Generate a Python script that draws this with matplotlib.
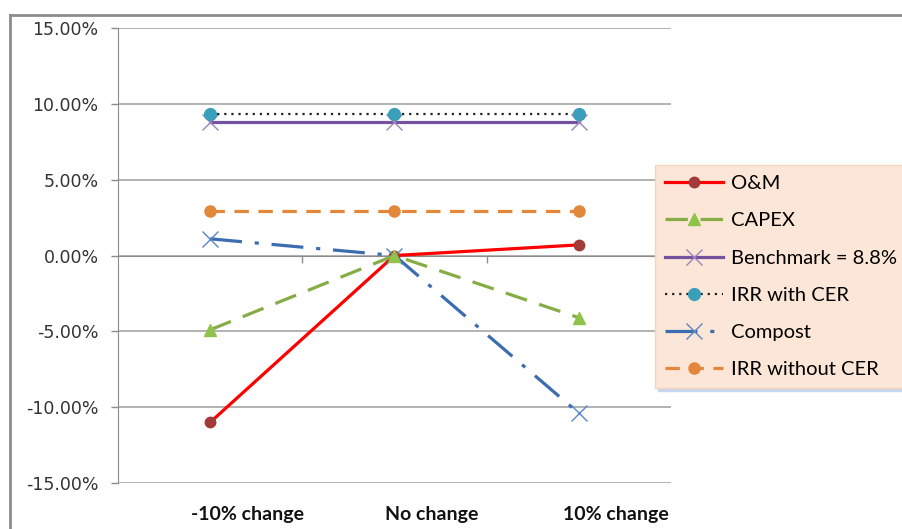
import matplotlib
matplotlib.use('Agg')
import matplotlib.pyplot as plt
import matplotlib.transforms as mtransforms
from matplotlib.lines import Line2D

# ── Data (IRR sensitivity, %) ─────────────────────────────────────────────────
categories = ['-10% change', 'No change', '10% change']
om = [-11.0, 0.0, 0.7]
capex = [-4.9, 0.0, -4.1]
benchmark = [8.8, 8.8, 8.8]
irr_with_cer = [9.35, 9.35, 9.35]
compost = [1.1, 0.0, -10.4]
irr_without_cer = [2.95, 2.95, 2.95]
y_ticks = [-15, -10, -5, 0, 5, 10, 15]

x = list(range(len(categories)))

fig = plt.figure(figsize=(9.02, 5.29), dpi=100)
ax = fig.add_axes([0.1308, 0.087, 0.6131, 0.860])

# outer chart border (only top/left visible in the crop)
fig.add_artist(Line2D([10/902, 10/902], [0, 1 - 15/529], color='#8C8C8C', lw=2))
fig.add_artist(Line2D([10/902, 1], [1 - 15/529, 1 - 15/529], color='#8C8C8C', lw=2))

ax.plot(x, om, color='#FF0000', lw=2.3, marker='o', ms=7.5,
        mfc='#A33A38', mec='#A33A38', label='O&M', zorder=3)
ax.plot(x, capex, color='#86AC45', lw=2.3, dashes=(7, 4), marker='^', ms=9,
        mfc='#8FC349', mec='#8FC349', label='CAPEX', zorder=4)
ax.plot(x, benchmark, color='#7352A0', lw=2.3, marker='x', ms=11, mew=1,
        mec='#9C85BE', label='Benchmark = 8.8%', zorder=3)
ax.plot(x, irr_with_cer, color='#222222', lw=1.6, dashes=(1, 2.2), marker='o', ms=8.5,
        mfc='#3A9FBA', mec='#3A9FBA', label='IRR with CER', zorder=3)
ax.plot(x, compost, color='#3C6DB0', lw=2.3, dashes=(10, 4, 1.3, 4), marker='x', ms=11,
        mew=1, mec='#5A86C3', label='Compost', zorder=3)
ax.plot(x, irr_without_cer, color='#E3883A', lw=2.3, dashes=(4.5, 3), marker='o', ms=8,
        mfc='#E3883A', mec='#E3883A', label='IRR without CER', zorder=3)

ax.set_xlim(-0.5, len(categories) - 0.5)
ax.set_ylim(min(y_ticks), max(y_ticks))
ax.set_yticks(y_ticks)
ax.set_yticklabels([f'{v:.2f}%' for v in y_ticks], fontsize=12.5, color='#333333')
ax.tick_params(axis='y', length=5, width=1, color='#8C8C8C', pad=9)
ax.grid(axis='y', color='#A6A6A6', lw=1.2)
ax.set_axisbelow(True)

# horizontal axis line sits at 0, ticks between categories
ax.spines['bottom'].set_position(('data', 0))
ax.spines['bottom'].set_color('#8C8C8C')
ax.spines['left'].set_color('#8C8C8C')
ax.spines['top'].set_visible(False)
ax.spines['right'].set_visible(False)
ax.set_xticks([i + 0.5 for i in x[:-1]])
ax.set_xticklabels([])
ax.tick_params(axis='x', length=5, width=1, color='#8C8C8C')

# category labels below the plot area
trans = mtransforms.blended_transform_factory(ax.transData, ax.transAxes)
for xi, lab in zip(x, categories):
    ax.text(xi + 0.2, -0.07, lab, transform=trans, ha='center', va='center',
            fontsize=14, fontweight='bold', family='Lato', color='#111111')

leg = ax.legend(loc='upper left', bbox_to_anchor=(655/902, 1 - 165/529),
                bbox_transform=fig.transFigure, prop={'family': 'Lato', 'size': 14.5},
                handlelength=2.9, labelspacing=1.0, borderpad=0.5, handletextpad=0.35,
                borderaxespad=0, fancybox=False, frameon=True,
                shadow={'color': '#C5D7EE', 'alpha': 1})
leg.get_frame().set_facecolor('#FCE6D7')
leg.get_frame().set_edgecolor('#F5D5BE')
leg.get_frame().set_alpha(1)

plt.savefig('out.png', dpi=100)
plt.close()
